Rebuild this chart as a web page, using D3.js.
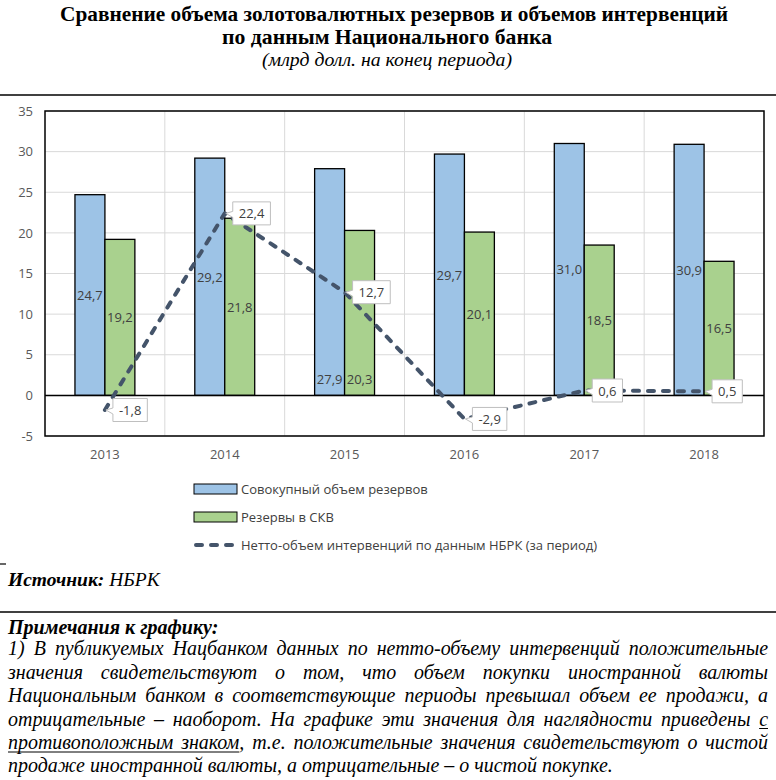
<!DOCTYPE html>
<html><head><meta charset="utf-8">
<script src="https://cdn.jsdelivr.net/npm/d3@7"></script>
<style>body{margin:0;background:#fff}</style>
</head><body>
<script>
// ---------- DATA ----------
const years = ["2013", "2014", "2015", "2016", "2017", "2018"];
const totalReserves = [24.7, 29.2, 27.9, 29.7, 31.0, 30.9];   // Совокупный объем резервов
const skvReserves = [19.2, 21.8, 20.3, 20.1, 18.5, 16.5];     // Резервы в СКВ
const netInterventions = [-1.8, 22.4, 12.7, -2.9, 0.6, 0.5];  // Нетто-объем интервенций
const yTicks = [-5, 0, 5, 10, 15, 20, 25, 30, 35];
const barLabelPlacement = ["center", "center", "base", "center", "center", "center"];
const seriesNames = ["Совокупный объем резервов", "Резервы в СКВ", "Нетто-объем интервенций по данным НБРК (за период)"];
const titleLines = ["Сравнение объема золотовалютных резервов и объемов интервенций", "по данным Национального банка"];
const subtitle = "(млрд долл. на конец периода)";
const noteLines = [
  "1) В публикуемых Нацбанком данных по нетто-объему интервенций положительные",
  "значения свидетельствуют о том, что объем покупки иностранной валюты",
  "Национальным банком в соответствующие периоды превышал объем ее продажи, а",
  "отрицательные – наоборот. На графике эти значения для наглядности приведены {с}",
  "{противоположным} {знаком}, т.е. положительные значения свидетельствуют о чистой",
  "продаже иностранной валюты, а отрицательные – о чистой покупке."
];

// ---------- SETUP ----------
const W = 776, H = 780;
const fmt = v => d3.format(".1f")(v).replace(".", ",").replace("−", "-");
const colors = { total: "#9DC3E6", skv: "#A9D18E", line: "#44546A" };
const chartFont = "'Open Sans', 'Noto Sans', sans-serif";

const svg = d3.select("body").append("svg")
  .attr("width", W).attr("height", H).style("display", "block");
svg.append("rect").attr("width", W).attr("height", H).attr("fill", "#fff");

// ---------- TITLE ----------
const serif = "'Liberation Serif', 'DejaVu Serif', serif";
svg.append("text").attr("x", 394).attr("y", 21).attr("text-anchor", "middle")
  .attr("font-family", serif).attr("font-weight", "bold").attr("font-size", 22)
  .attr("textLength", 668).attr("lengthAdjust", "spacingAndGlyphs")
  .text(titleLines[0]);
svg.append("text").attr("x", 387).attr("y", 44).attr("text-anchor", "middle")
  .attr("font-family", serif).attr("font-weight", "bold").attr("font-size", 22)
  .attr("textLength", 330).attr("lengthAdjust", "spacingAndGlyphs")
  .text(titleLines[1]);
svg.append("text").attr("x", 387).attr("y", 66).attr("text-anchor", "middle")
  .attr("font-family", serif).attr("font-style", "italic").attr("font-size", 18)
  .attr("textLength", 250).attr("lengthAdjust", "spacingAndGlyphs")
  .text(subtitle);

svg.append("line").attr("x1", 0).attr("x2", W).attr("y1", 95).attr("y2", 95)
  .attr("stroke", "#000").attr("stroke-width", 1.5);

// ---------- SCALES ----------
const plot = { left: 45, right: 764, top: 111, bottom: 436 };
const x = d3.scaleBand().domain(years).range([plot.left, plot.right]);
const bw = x.bandwidth();
const xs = d3.scaleBand().domain(["total", "skv"]).range([bw / 4, bw * 3 / 4]);
const y = d3.scaleLinear().domain([-5, 35]).range([plot.bottom, plot.top]);

// gridlines
const grid = svg.append("g");
grid.selectAll("line.h").data(yTicks).join("line")
  .attr("x1", plot.left).attr("x2", plot.right)
  .attr("y1", d => y(d)).attr("y2", d => y(d))
  .attr("stroke", "#d9d9d9").attr("stroke-width", 1);
grid.selectAll("line.v").data(years.slice(1)).join("line")
  .attr("x1", d => x(d)).attr("x2", d => x(d))
  .attr("y1", plot.top).attr("y2", plot.bottom)
  .attr("stroke", "#d9d9d9").attr("stroke-width", 1);

// axes
const yAxis = svg.append("g").attr("transform", `translate(${plot.left},0)`)
  .call(d3.axisLeft(y).tickValues(yTicks).tickSize(0).tickPadding(12).tickFormat(d => String(d)));
yAxis.select(".domain").remove();
yAxis.selectAll("text").attr("font-family", chartFont).attr("font-size", 13).attr("fill", "#595959");

const xAxis = svg.append("g").attr("transform", `translate(0,${plot.bottom})`)
  .call(d3.axisBottom(x).tickSize(0).tickPadding(14));
xAxis.select(".domain").remove();
xAxis.selectAll("text").attr("font-family", chartFont).attr("font-size", 13).attr("fill", "#595959");

// bars
const barData = [];
years.forEach((yr, i) => {
  barData.push({ yr, key: "total", v: totalReserves[i], place: barLabelPlacement[i] });
  barData.push({ yr, key: "skv", v: skvReserves[i], place: barLabelPlacement[i] });
});
svg.append("g").selectAll("rect").data(barData).join("rect")
  .attr("x", d => x(d.yr) + xs(d.key))
  .attr("width", xs.bandwidth())
  .attr("y", d => y(d.v))
  .attr("height", d => y(0) - y(d.v))
  .attr("fill", d => colors[d.key])
  .attr("stroke", "#000").attr("stroke-width", 1.3);

// plot border + zero line
svg.append("rect").attr("x", plot.left).attr("y", plot.top)
  .attr("width", plot.right - plot.left).attr("height", plot.bottom - plot.top)
  .attr("fill", "none").attr("stroke", "#000").attr("stroke-width", 1.5);
svg.append("line").attr("x1", plot.left).attr("x2", plot.right)
  .attr("y1", y(0)).attr("y2", y(0)).attr("stroke", "#000").attr("stroke-width", 1.5);

// bar labels
svg.append("g").selectAll("text").data(barData).join("text")
  .attr("x", d => x(d.yr) + xs(d.key) + xs.bandwidth() / 2)
  .attr("y", d => d.place === "base" ? y(0) - 16 : y(d.v / 2))
  .attr("text-anchor", "middle").attr("dominant-baseline", "central")
  .attr("font-family", chartFont).attr("font-size", 13).attr("fill", "#404040")
  .text(d => fmt(d.v));

// line
const pts = years.map((yr, i) => ({ x: x(yr) + bw / 2, y: y(netInterventions[i]), v: netInterventions[i] }));
svg.append("path").datum(pts)
  .attr("d", d3.line().x(d => d.x).y(d => d.y))
  .attr("fill", "none").attr("stroke", colors.line).attr("stroke-width", 4)
  .attr("stroke-dasharray", "6,9").attr("stroke-linecap", "round").attr("stroke-linejoin", "round");

// callout labels
pts.forEach(p => {
  const g = svg.append("g");
  const path = g.append("path");
  const t = g.append("text").attr("x", p.x + 14).attr("y", p.y)
    .attr("dominant-baseline", "central")
    .attr("font-family", chartFont).attr("font-size", 13).attr("fill", "#404040")
    .text(fmt(p.v));
  const w = t.node().getComputedTextLength();
  const L = p.x + 8, R = L + w + 12, T = p.y - 11.5, B = p.y + 11.5;
  path.attr("d", `M${L},${T}H${R}V${B}H${L}V${p.y + 4}L${p.x + 1},${p.y}L${L},${p.y - 2}Z`)
    .attr("fill", "#fff").attr("stroke", "#bfbfbf").attr("stroke-width", 1);
});

// ---------- LEGEND ----------
const lg = svg.append("g");
const legendY = [489, 517, 545];
lg.append("rect").attr("x", 194).attr("y", legendY[0] - 5).attr("width", 43).attr("height", 10)
  .attr("fill", colors.total).attr("stroke", "#000").attr("stroke-width", 1);
lg.append("rect").attr("x", 194).attr("y", legendY[1] - 5).attr("width", 43).attr("height", 10)
  .attr("fill", colors.skv).attr("stroke", "#000").attr("stroke-width", 1);
lg.append("line").attr("x1", 196).attr("x2", 236).attr("y1", legendY[2]).attr("y2", legendY[2])
  .attr("stroke", colors.line).attr("stroke-width", 4).attr("stroke-dasharray", "6,9").attr("stroke-linecap", "round");
lg.selectAll("text").data(seriesNames).join("text")
  .attr("x", 241).attr("y", (d, i) => legendY[i]).attr("dominant-baseline", "central")
  .attr("font-family", chartFont).attr("font-size", 13).attr("fill", "#404040")
  .text(d => d);

// ---------- SOURCE ----------
svg.append("line").attr("x1", 0).attr("x2", 6).attr("y1", 564).attr("y2", 564).attr("stroke", "#000").attr("stroke-width", 1.2);
const src = svg.append("text").attr("x", 8).attr("y", 586)
  .attr("font-family", serif).attr("font-size", 19.5).attr("font-style", "italic");
src.append("tspan").attr("font-weight", "bold").text("Источник:");
src.append("tspan").text(" НБРК");

svg.append("line").attr("x1", 0).attr("x2", W).attr("y1", 612).attr("y2", 612)
  .attr("stroke", "#000").attr("stroke-width", 1.5);

svg.append("text").attr("x", 8).attr("y", 634)
  .attr("font-family", serif).attr("font-size", 20).attr("font-style", "italic").attr("font-weight", "bold")
  .text("Примечания к графику:");

// ---------- NOTES (justified) ----------
const meas = svg.append("text").attr("font-family", serif).attr("font-size", 20)
  .attr("font-style", "italic").attr("visibility", "hidden");
const mw = s => { meas.text(s); return meas.node().getComputedTextLength(); };
// size the note font so the final (unjustified) line spans like the reference
const noteSize = Math.min(22, 20 * 605 / mw(noteLines[noteLines.length - 1].replace(/[{}]/g, "")));
meas.attr("font-size", noteSize);
const spaceW = mw("a a") - mw("aa");
const noteX0 = 8, noteX1 = 768;
const noteBase = [655, 678.5, 702, 725.5, 749, 772];
const notes = svg.append("g").attr("font-family", serif).attr("font-size", noteSize)
  .attr("font-style", "italic").attr("fill", "#000");
noteLines.forEach((line, li) => {
  const words = line.split(" ").map(wd => {
    const m = wd.match(/^\{(.*)\}(.*)$/);
    return m ? { text: m[1] + m[2], ul: m[1] } : { text: wd, ul: null };
  });
  words.forEach(wd => wd.w = mw(wd.text));
  const total = d3.sum(words, d => d.w);
  const justify = li < noteLines.length - 1;
  let gap = justify ? (noteX1 - noteX0 - total) / (words.length - 1) : spaceW;
  gap = Math.max(gap, spaceW * 0.6);
  let cx = noteX0;
  let ulStart = null, ulEnd = null;
  words.forEach(wd => {
    notes.append("text").attr("x", cx).attr("y", noteBase[li]).text(wd.text);
    if (wd.ul) {
      if (ulStart === null) ulStart = cx;
      ulEnd = cx + mw(wd.ul);
    }
    cx += wd.w + gap;
  });
  if (ulStart !== null) {
    notes.append("line").attr("x1", ulStart).attr("x2", ulEnd)
      .attr("y1", noteBase[li] + 3).attr("y2", noteBase[li] + 3)
      .attr("stroke", "#000").attr("stroke-width", 1);
  }
});
meas.remove();
</script>
</body></html>
